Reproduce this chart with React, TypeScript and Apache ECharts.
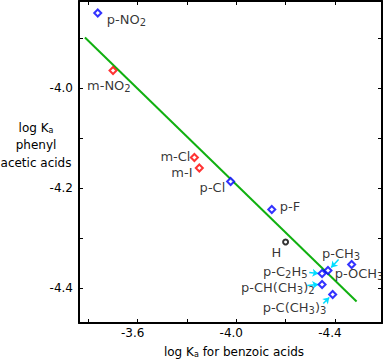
import React, { useEffect, useRef } from "react";
import * as echarts from "echarts";

// Data
const paraNames = ["p-NO2", "p-Cl", "p-F", "p-CH3", "p-C2H5", "p-OCH3", "p-CH(CH3)2", "p-C(CH3)3"];
const paraX = [-3.438, -3.977, -4.144, -4.372, -4.348, -4.468, -4.348, -4.391];
const paraY = [-3.85, -4.187, -4.243, -4.365, -4.371, -4.353, -4.393, -4.413];

const metaNames = ["m-NO2", "m-Cl", "m-I"];
const metaX = [-3.5, -3.83, -3.85];
const metaY = [-3.965, -4.139, -4.16];

const parentNames = ["H"];
const parentX = [-4.2];
const parentY = [-4.308];

const fitX = [-3.386, -4.488];
const fitY = [-3.899, -4.427];

// arrows: start and end in data units
const arrowStartX = [-4.296, -4.415, -4.288, -4.353];
const arrowStartY = [-4.369, -4.343, -4.395, -4.431];
const arrowEndX = [-4.333, -4.385, -4.333, -4.377];
const arrowEndY = [-4.371, -4.359, -4.393, -4.419];

const xTickLabels = ["-3.6", "-4.0", "-4.4"];
const yTickLabels = ["-4.0", "-4.2", "-4.4"];

const labelText: Record<string, string> = {
  "p-NO2": "p-NO{s|2}",
  "m-NO2": "m-NO{s|2}",
  "m-Cl": "m-Cl",
  "m-I": "m-I",
  "p-Cl": "p-Cl",
  "p-F": "p-F",
  H: "H",
  "p-CH3": "p-CH{s|3}",
  "p-OCH3": "p-OCH{s|3}",
  "p-C2H5": "p-C{s|2}H{s|5}",
  "p-CH(CH3)2": "p-CH(CH{s|3}){s|2}",
  "p-C(CH3)3": "p-C(CH{s|3}){s|3}",
};

// label placement (pixels, relative to the marker centre)
const labelOffset: Record<string, number[]> = {
  "p-NO2": [9, 6],
  "m-NO2": [-26, 15],
  "m-Cl": [-34, -1],
  "m-I": [-28, 4],
  "p-Cl": [-31, 6],
  "p-F": [8, -3],
  H: [-14, 10],
  "p-CH3": [-6, -17],
  "p-OCH3": [-17, 9],
  "p-C2H5": [-59, -2],
  "p-CH(CH3)2": [-81, 3],
  "p-C(CH3)3": [-70, 13],
};

const FONT = "DejaVu Sans";

function items(names: string[], xs: number[], ys: number[]) {
  return names.map((n, i) => ({
    name: n,
    value: [xs[i], ys[i]],
    label: { formatter: labelText[n], offset: labelOffset[n] },
  }));
}

const pointLabel = {
  show: true,
  position: "inside",
  align: "left",
  verticalAlign: "middle",
  color: "#000",
  fontSize: 13,
  fontFamily: FONT,
  lineHeight: 16,
  rich: {
    s: { fontSize: 10, fontFamily: FONT, lineHeight: 16, padding: [6, 0, 0, 0], color: "#000" },
  },
};

function isMultiple(v: number, step: number) {
  const k = v / step;
  return Math.abs(k - Math.round(k)) < 1e-6;
}

export default function App() {
  const ref = useRef<HTMLDivElement>(null);
  useEffect(() => {
    if (!ref.current) return;
    const chart = echarts.init(ref.current, undefined, { renderer: "svg" });
    const xMin = -4.5911;
    const xMax = -3.3619;
    const yMin = -4.47;
    const yMax = -3.826;
    const axisLine = { show: true, lineStyle: { color: "#000", width: 2 } };
    const xCommon = {
      type: "value",
      inverse: true,
      min: xMin,
      max: xMax,
      splitNumber: 6,
      minInterval: 0.2,
      maxInterval: 0.2,
      splitLine: { show: false },
      axisLine,
      axisTick: { show: true, inside: true, length: 4, lineStyle: { color: "#000", width: 1 } },
    };
    const yCommon = {
      type: "value",
      min: yMin,
      max: yMax,
      splitNumber: 6,
      minInterval: 0.1,
      maxInterval: 0.1,
      splitLine: { show: false },
      axisLine,
      axisTick: { show: true, inside: true, length: 4, lineStyle: { color: "#000", width: 1 } },
    };
    chart.setOption({
      animation: false,
      backgroundColor: "#fff",
      grid: { left: 79, right: 2, top: 1, bottom: 36, containLabel: false },
      xAxis: [
        {
          ...xCommon,
          position: "bottom",
          axisLabel: {
            show: true,
            color: "#000",
            fontSize: 12,
            fontFamily: FONT,
            margin: 4,
            padding: [0, 10, 0, 0],
            showMinLabel: false,
            showMaxLabel: false,
            formatter: (v: number) => {
              const s = v.toFixed(1);
              return isMultiple(v, 0.4) && xTickLabels.includes(s) ? s : "";
            },
          },
        },
        { ...xCommon, position: "top", axisLabel: { show: false } },
      ],
      yAxis: [
        {
          ...yCommon,
          position: "left",
          axisLabel: {
            show: true,
            color: "#000",
            fontSize: 12,
            fontFamily: FONT,
            margin: 6,
            showMinLabel: false,
            showMaxLabel: false,
            formatter: (v: number) => {
              const s = v.toFixed(1);
              return isMultiple(v, 0.2) && yTickLabels.includes(s) ? s : "";
            },
          },
        },
        { ...yCommon, position: "right", axisLabel: { show: false } },
      ],
      graphic: [
        {
          type: "text",
          x: 36,
          y: 145,
          style: {
            text: "log K{a|a}\nphenyl\nacetic acids",
            align: "center",
            verticalAlign: "middle",
            fontSize: 12,
            fontFamily: FONT,
            lineHeight: 17.5,
            fill: "#000",
            rich: { a: { fontSize: 8, fontFamily: FONT, lineHeight: 17.5, padding: [5, 0, 0, 0] } },
          },
        },
        {
          type: "text",
          x: 234,
          y: 352,
          style: {
            text: "log K{a|a} for benzoic acids",
            align: "center",
            verticalAlign: "middle",
            fontSize: 12,
            fontFamily: FONT,
            lineHeight: 16,
            fill: "#000",
            rich: { a: { fontSize: 8, fontFamily: FONT, lineHeight: 16, padding: [5, 0, 0, 0] } },
          },
        },
      ],
      series: [
        {
          type: "line",
          name: "fit",
          data: fitX.map((x, i) => [x, fitY[i]]),
          showSymbol: false,
          symbol: "none",
          lineStyle: { color: "#10b010", width: 2 },
          z: 1,
          silent: true,
        },
        {
          type: "lines",
          coordinateSystem: "cartesian2d",
          data: arrowStartX.map((x, i) => ({
            coords: [
              [x, arrowStartY[i]],
              [arrowEndX[i], arrowEndY[i]],
            ],
          })),
          symbol: ["none", "arrow"],
          symbolSize: 6,
          lineStyle: { color: "#00ddff", width: 1.5, opacity: 1 },
          z: 2,
          silent: true,
        },
        {
          type: "scatter",
          name: "para",
          data: items(paraNames, paraX, paraY),
          symbol: "diamond",
          symbolSize: 7,
          itemStyle: { color: "#fff", borderColor: "#0000ff", borderWidth: 2 },
          label: pointLabel,
          z: 3,
        },
        {
          type: "scatter",
          name: "meta",
          data: items(metaNames, metaX, metaY),
          symbol: "diamond",
          symbolSize: 7,
          itemStyle: { color: "#fff", borderColor: "#ff0000", borderWidth: 2 },
          label: pointLabel,
          z: 3,
        },
        {
          type: "scatter",
          name: "parent",
          data: items(parentNames, parentX, parentY),
          symbol: "circle",
          symbolSize: 5,
          itemStyle: { color: "#fff", borderColor: "#000", borderWidth: 2 },
          label: pointLabel,
          z: 3,
        },
      ],
    });
    return () => chart.dispose();
  }, []);
  return (
    <div
      ref={ref}
      style={{ position: "absolute", left: 0, top: 0, width: 384, height: 359, background: "#fff" }}
    />
  );
}
